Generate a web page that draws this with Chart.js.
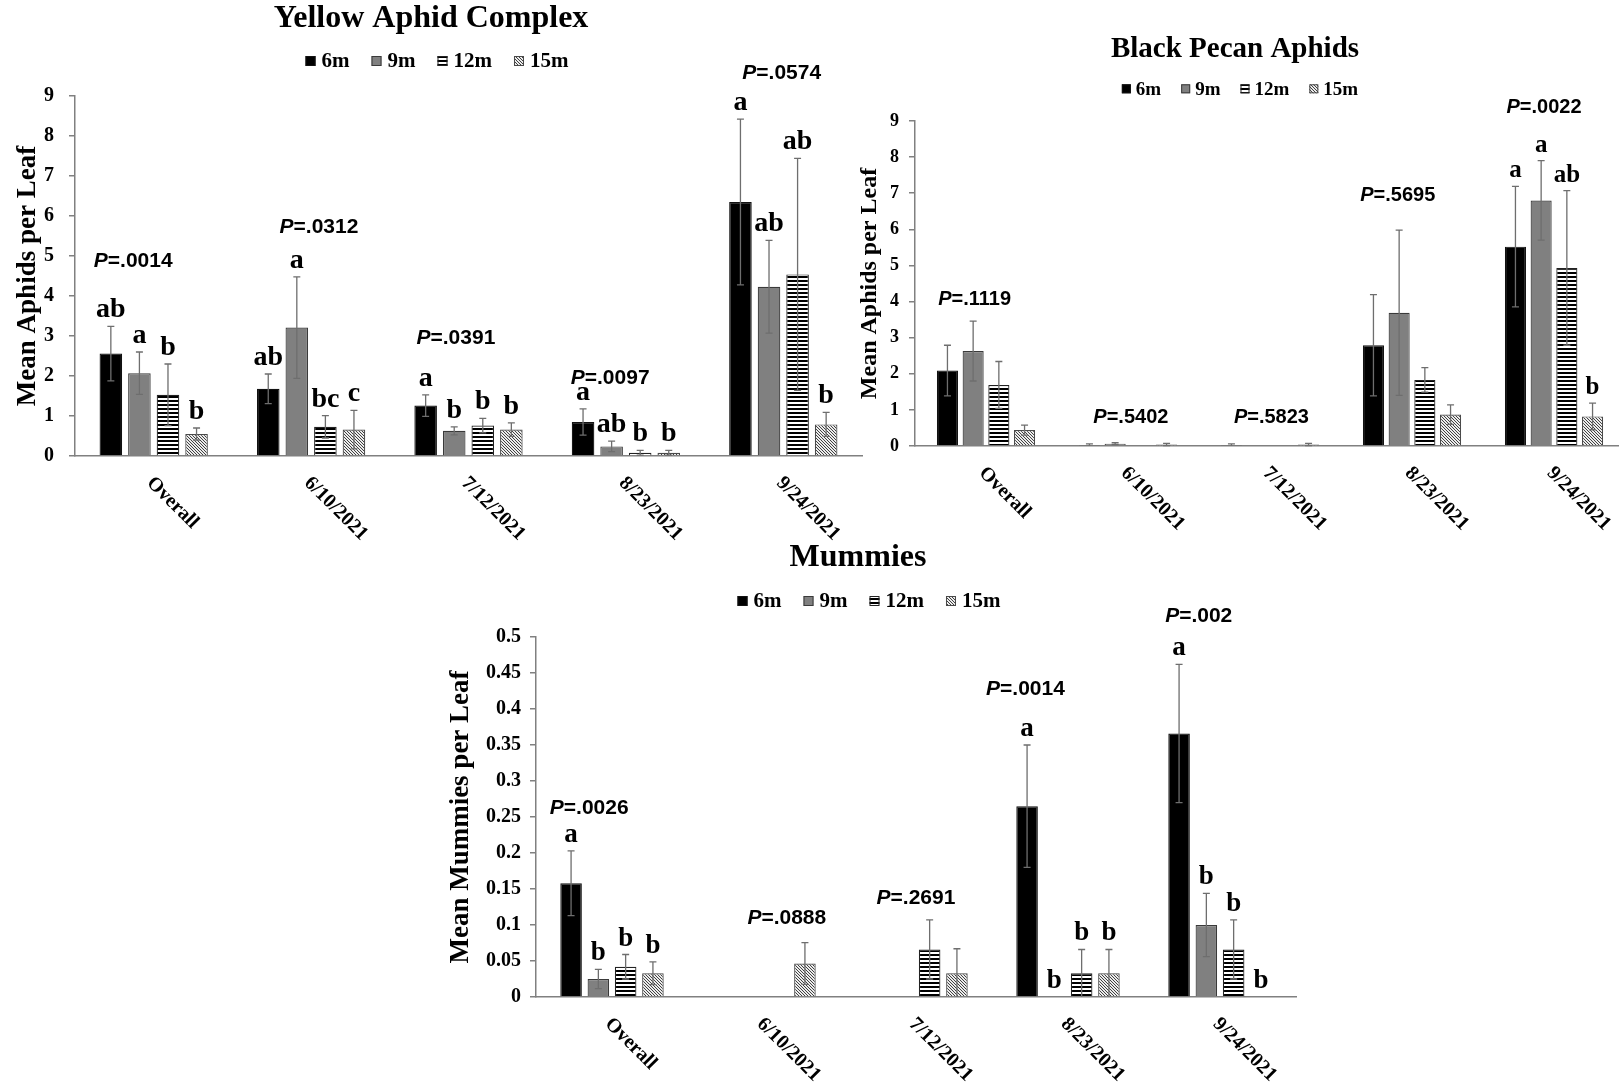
<!DOCTYPE html>
<html><head><meta charset="utf-8">
<script src="https://cdn.jsdelivr.net/npm/chart.js@4.4.1/dist/chart.umd.min.js"></script>
<style>
html,body{margin:0;padding:0;background:#fff;overflow:hidden;width:1619px;height:1089px;}
#wrap{position:relative;width:1619px;height:1089px;overflow:hidden;background:#fff;}
canvas{position:absolute;}
</style></head><body><div id="wrap">
<canvas id="c1" width="874" height="560" style="left:0px;top:0px;width:874px;height:560px"></canvas>
<canvas id="c2" width="790" height="540" style="left:845px;top:0px;width:790px;height:540px"></canvas>
<canvas id="c3" width="898" height="559" style="left:420px;top:530px;width:898px;height:559px"></canvas>
</div>
<script>
// ---------- DATA ----------
const categories = ['Overall', '6/10/2021', '7/12/2021', '8/23/2021', '9/24/2021'];
const seriesNames = ['6m', '9m', '12m', '15m'];
const aphidTicks = ['0', '1', '2', '3', '4', '5', '6', '7', '8', '9'];
const mummyTicks = ['0', '0.05', '0.1', '0.15', '0.2', '0.25', '0.3', '0.35', '0.4', '0.45', '0.5'];

// Yellow Aphid Complex (means, standard errors, letters)
const yellow6m = [2.56, 1.68, 1.26, 0.85, 6.35];
const yellow9m = [2.07, 3.21, 0.63, 0.24, 4.23];
const yellow12m = [1.53, 0.73, 0.76, 0.08, 4.54];
const yellow15m = [0.55, 0.66, 0.66, 0.08, 0.79];
const yellow6mSE = [0.68, 0.37, 0.27, 0.33, 2.07];
const yellow9mSE = [0.53, 1.27, 0.10, 0.13, 1.16];
const yellow12mSE = [0.77, 0.28, 0.18, 0.06, 2.90];
const yellow15mSE = [0.15, 0.48, 0.17, 0.06, 0.30];
const yellow6mLetters = ['ab', 'ab', 'a', 'a', 'a'];
const yellow9mLetters = ['a', 'a', 'b', 'ab', 'ab'];
const yellow12mLetters = ['b', 'bc', 'b', 'b', 'ab'];
const yellow15mLetters = ['b', 'c', 'b', 'b', 'b'];
const yellowP = ['.0014', '.0312', '.0391', '.0097', '.0574'];
const yellowPAt = [4.86, 5.71, 2.95, 1.95, 9.58];
const yellowPShift = [-0.13, 0.05, -0.08, -0.10, -0.01];

// Black Pecan Aphids
const black6m = [2.09, 0.03, 0.03, 2.79, 5.52];
const black9m = [2.63, 0.065, 0, 3.69, 6.80];
const black12m = [1.69, 0, 0, 1.83, 4.93];
const black15m = [0.44, 0.04, 0.04, 0.87, 0.82];
const black6mSE = [0.70, 0.03, 0.03, 1.40, 1.67];
const black9mSE = [0.83, 0.025, 0, 2.29, 1.10];
const black12mSE = [0.65, 0, 0, 0.34, 2.14];
const black15mSE = [0.14, 0.03, 0.03, 0.27, 0.37];
const black6mLetters = ['', '', '', '', 'a'];
const black9mLetters = ['', '', '', '', 'a'];
const black12mLetters = ['', '', '', '', 'ab'];
const black15mLetters = ['', '', '', '', 'b'];
const blackP = ['.1119', '.5402', '.5823', '.5695', '.0022'];
const blackPAt = [4.05, 0.79, 0.79, 6.93, 9.38];
const blackPShift = [-0.08, 0.02, 0.01, -0.10, -0.07];

// Mummies
const mummy6m = [0.158, 0, 0, 0.265, 0.366];
const mummy9m = [0.025, 0, 0, 0, 0.100];
const mummy12m = [0.042, 0, 0.066, 0.033, 0.066];
const mummy15m = [0.033, 0.0466, 0.033, 0.033, 0];
const mummy6mSE = [0.045, 0, 0, 0.085, 0.096];
const mummy9mSE = [0.0135, 0, 0, 0, 0.044];
const mummy12mSE = [0.017, 0, 0.041, 0.033, 0.041];
const mummy15mSE = [0.0157, 0.029, 0.034, 0.033, 0];
const mummy6mLetters = ['a', '', '', 'a', 'a'];
const mummy9mLetters = ['b', '', '', 'b', 'b'];
const mummy12mLetters = ['b', '', '', 'b', 'b'];
const mummy15mLetters = ['b', '', '', 'b', 'b'];
const mummyP = ['.0026', '.0888', '.2691', '.0014', '.002'];
const mummyPAt = [0.262, 0.110, 0.137, 0.428, 0.529];
const mummyPShift = [-0.15, 0.15, 0.0, -0.28, -0.14];

// ---------- STYLE / RENDER ----------
const SERIF = '"Liberation Serif", "Times New Roman", serif';
const SANS = '"Liberation Sans", Arial, sans-serif';
const AXIS = '#808080';

function stripePattern(ctx) {
  const c = document.createElement('canvas'); c.width = 4; c.height = 4;
  const g = c.getContext('2d');
  g.fillStyle = '#ffffff'; g.fillRect(0, 0, 4, 4);
  g.fillStyle = '#000000'; g.fillRect(0, 0, 4, 2);
  return ctx.createPattern(c, 'repeat');
}
function hatchPattern(ctx) {
  const c = document.createElement('canvas'); c.width = 3; c.height = 3;
  const g = c.getContext('2d');
  g.fillStyle = '#ececec'; g.fillRect(0, 0, 3, 3);
  g.strokeStyle = '#2e2e2e'; g.lineWidth = 0.9;
  g.beginPath();
  g.moveTo(-1, -1); g.lineTo(4, 4);
  g.moveTo(-1, 2); g.lineTo(1, 4);
  g.moveTo(2, -1); g.lineTo(4, 1);
  g.stroke();
  return ctx.createPattern(c, 'repeat');
}

const annot = {
  id: 'annot',
  afterDraw(chart) {
    const o = chart.options.plugins.annot;
    const { ctx, chartArea } = chart;
    const x = chart.scales.x, y = chart.scales.y;
    ctx.save();
    // error bars
    ctx.strokeStyle = '#6e6e6e';
    ctx.lineWidth = 1.3;
    chart.data.datasets.forEach((ds, di) => {
      const meta = chart.getDatasetMeta(di);
      meta.data.forEach((bar, i) => {
        const v = ds.data[i], se = ds.se[i];
        if (!(se > 0)) return;
        const yt = y.getPixelForValue(v + se);
        const lo = v - se;
        const yb = y.getPixelForValue(Math.max(0, lo));
        ctx.beginPath();
        ctx.moveTo(bar.x, yt); ctx.lineTo(bar.x, yb);
        ctx.moveTo(bar.x - 3.5, yt); ctx.lineTo(bar.x + 3.5, yt);
        if (lo > 0) { ctx.moveTo(bar.x - 3.5, yb); ctx.lineTo(bar.x + 3.5, yb); }
        ctx.stroke();
      });
    });
    // letters
    ctx.fillStyle = '#000';
    ctx.font = 'bold ' + o.letterSize + 'px ' + SERIF;
    ctx.textAlign = 'center';
    ctx.textBaseline = 'alphabetic';
    chart.data.datasets.forEach((ds, di) => {
      const meta = chart.getDatasetMeta(di);
      meta.data.forEach((bar, i) => {
        const L = ds.letters[i];
        if (!L) return;
        const top = y.getPixelForValue(ds.data[i] + (ds.se[i] || 0));
        ctx.fillText(L, bar.x, top - 9);
      });
    });
    // P values
    ctx.textBaseline = 'middle';
    ctx.textAlign = 'left';
    o.pText.forEach((t, i) => {
      const cx = x.getPixelForValue(i + o.pShift[i]);
      const cy = y.getPixelForValue(o.pAt[i]);
      ctx.font = 'italic bold ' + o.pSize + 'px ' + SANS;
      const w1 = ctx.measureText('P').width;
      ctx.font = 'bold ' + o.pSize + 'px ' + SANS;
      const rest = '=' + t;
      const w2 = ctx.measureText(rest).width;
      const sx = cx - (w1 + w2) / 2;
      ctx.font = 'italic bold ' + o.pSize + 'px ' + SANS;
      ctx.fillText('P', sx, cy);
      ctx.font = 'bold ' + o.pSize + 'px ' + SANS;
      ctx.fillText(rest, sx + w1, cy);
    });
    // rotated category labels
    ctx.font = 'bold ' + o.xLabelSize + 'px ' + SERIF;
    ctx.textAlign = 'left';
    ctx.textBaseline = 'middle';
    chart.data.labels.forEach((lab, i) => {
      const px = x.getPixelForValue(i);
      ctx.save();
      ctx.translate(px - 4, chartArea.bottom + 24);
      ctx.rotate(Math.PI / 4);
      ctx.fillText(lab, 0, 0);
      ctx.restore();
    });
    // legend
    const lg = o.legend;
    ctx.font = 'bold ' + lg.size + 'px ' + SERIF;
    const ws = chart.data.datasets.map(ds => ctx.measureText(ds.label).width);
    let total = 0;
    ws.forEach((w, k) => { total += lg.box + lg.gapText + w + (k < ws.length - 1 ? lg.gapItem : 0); });
    let cur = chart.width / 2 - total / 2;
    chart.data.datasets.forEach((ds, k) => {
      ctx.fillStyle = ds.backgroundColor;
      ctx.fillRect(cur, lg.y - lg.box / 2, lg.box, lg.box);
      ctx.strokeStyle = ds.borderColor; ctx.lineWidth = 1;
      ctx.strokeRect(cur + 0.5, lg.y - lg.box / 2 + 0.5, lg.box - 1, lg.box - 1);
      ctx.fillStyle = '#000';
      ctx.fillText(ds.label, cur + lg.box + lg.gapText, lg.y + 1);
      cur += lg.box + lg.gapText + ws[k] + lg.gapItem;
    });
    ctx.restore();
  }
};

function build(id, o) {
  const canvas = document.getElementById(id);
  const ctx = canvas.getContext('2d');
  const fills = ['#000000', '#808080', stripePattern(ctx), hatchPattern(ctx)];
  const borders = ['#111111', '#3a3a3a', '#222222', '#4a4a4a'];
  const datasets = o.values.map((vals, k) => ({
    label: seriesNames[k], data: vals, se: o.errors[k], letters: o.letters[k],
    backgroundColor: fills[k], borderColor: borders[k], borderWidth: 1.2,
    categoryPercentage: o.cp, barPercentage: o.bp
  }));
  return new Chart(ctx, {
    type: 'bar',
    data: { labels: categories, datasets },
    options: {
      responsive: false, animation: false, events: [],
      layout: { padding: { left: 0, right: o.padRight, top: 0, bottom: 0 } },
      plugins: {
        legend: { display: false },
        tooltip: { enabled: false },
        title: {
          display: true, text: o.title, color: '#000',
          font: { family: SERIF, size: o.titleSize, weight: 'bold', lineHeight: 1.15 },
          padding: { top: o.titleTop, bottom: o.titleBottom }
        },
        annot: {
          letterSize: o.letterSize, pSize: o.pSize, pText: o.pText, pAt: o.pAt, pShift: o.pShift,
          xLabelSize: 20, legend: o.legend
        }
      },
      scales: {
        x: {
          grid: { display: false },
          border: { display: true, color: AXIS, width: 1.5 },
          ticks: { display: false },
          afterFit: s => { s.height = o.xHeight; }
        },
        y: {
          min: 0, max: o.yMax,
          ticks: {
            stepSize: o.step, color: '#000', padding: o.tickPad,
            font: { family: SERIF, size: o.tickSize, weight: 'bold' },
            callback: (v, i) => o.tickLabels[i]
          },
          grid: { display: true, drawOnChartArea: false, drawTicks: true, tickLength: 6, color: AXIS, lineWidth: 1.5 },
          border: { display: true, color: AXIS, width: 1.5 },
          title: {
            display: true, text: o.yTitle, color: '#000',
            font: { family: SERIF, size: o.yTitleSize, weight: 'bold', lineHeight: 1.2 },
            padding: { top: o.yTitlePad, bottom: 0 }
          },
          afterFit: s => { s.width = o.yWidth; }
        }
      }
    },
    plugins: [annot]
  });
}

build('c1', {
  title: 'Yellow Aphid Complex', titleSize: 32, titleTop: 0, titleBottom: 59.2,
  padRight: 12, xHeight: 104, yWidth: 75, yMax: 9, step: 1, tickLabels: aphidTicks,
  tickSize: 20, tickPad: 15, yTitle: 'Mean Aphids per Leaf', yTitleSize: 27, yTitlePad: 11.8,
  cp: 0.726, bp: 0.79, letterSize: 28, pSize: 21,
  values: [yellow6m, yellow9m, yellow12m, yellow15m],
  errors: [yellow6mSE, yellow9mSE, yellow12mSE, yellow15mSE],
  letters: [yellow6mLetters, yellow9mLetters, yellow12mLetters, yellow15mLetters],
  pText: yellowP, pAt: yellowPAt, pShift: yellowPShift,
  legend: { y: 61, size: 21, box: 10, gapText: 6, gapItem: 22 }
});

build('c2', {
  title: 'Black Pecan Aphids', titleSize: 29, titleTop: 32.9, titleBottom: 54.75,
  padRight: 10, xHeight: 94, yWidth: 70, yMax: 9, step: 1, tickLabels: aphidTicks,
  tickSize: 18, tickPad: 10, yTitle: 'Mean Aphids per Leaf', yTitleSize: 24, yTitlePad: 10.6,
  cp: 0.724, bp: 0.82, letterSize: 25, pSize: 20,
  values: [black6m, black9m, black12m, black15m],
  errors: [black6mSE, black9mSE, black12mSE, black15mSE],
  letters: [black6mLetters, black9mLetters, black12mLetters, black15mLetters],
  pText: blackP, pAt: blackPAt, pShift: blackPShift,
  legend: { y: 88.8, size: 19, box: 9, gapText: 5, gapItem: 20 }
});

build('c3', {
  title: 'Mummies', titleSize: 32, titleTop: 9.1, titleBottom: 61.1,
  padRight: 22, xHeight: 92, yWidth: 116, yMax: 0.5, step: 0.05, tickLabels: mummyTicks,
  tickSize: 20, tickPad: 9, yTitle: 'Mean Mummies per Leaf', yTitleSize: 27, yTitlePad: 24.8,
  cp: 0.718, bp: 0.79, letterSize: 27, pSize: 21,
  values: [mummy6m, mummy9m, mummy12m, mummy15m],
  errors: [mummy6mSE, mummy9mSE, mummy12mSE, mummy15mSE],
  letters: [mummy6mLetters, mummy9mLetters, mummy12mLetters, mummy15mLetters],
  pText: mummyP, pAt: mummyPAt, pShift: mummyPShift,
  legend: { y: 71, size: 21, box: 10, gapText: 6, gapItem: 22 }
});
</script></body></html>
